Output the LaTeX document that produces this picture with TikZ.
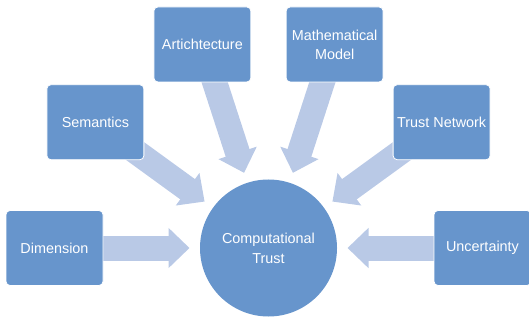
\documentclass[tikz,border=0pt]{standalone}
\usepackage{fontspec}
\setmainfont{Liberation Sans}
\usetikzlibrary{arrows.meta,calc,backgrounds}
\definecolor{boxblue}{RGB}{103,149,204}
\definecolor{arrowblue}{RGB}{185,201,230}

\begin{document}
\begin{tikzpicture}[x=1pt,y=1pt]

    \tikzset{
      Topic/.style = {draw=white, line width=0.8pt, fill=boxblue, rounded corners=4pt,
        minimum width=97pt, minimum height=75pt, text=white, align=center,
        font=\fontsize{14.4}{19}\selectfont},
      Core/.style = {circle, fill=boxblue, minimum size=137pt, inner sep=0pt,
        text=white, align=center, font=\fontsize{14.4}{20}\selectfont},
      Flow/.style = {draw=arrowblue, line width=25pt, -{Triangle[width=39pt,length=21pt]}}
    }
    \useasboundingbox (0,0) rectangle (529,-320);

    \node[Core] (CT) at (268.5,-248) {Computational\\Trust};
    \node[Topic] (Dim) at ($(CT)+(180:214pt)$) {Dimension};
    \node[Topic] (Sem) at ($(CT)+(144:214pt)$) {Semantics};
    \node[Topic] (Arc) at ($(CT)+(108:214pt)$) {Artichtecture};
    \node[Topic] (Mat) at ($(CT)+(72:214pt)$) {Mathematical\\Model};
    \node[Topic] (TN)  at ($(CT)+(36:214pt)$) {Trust Network};
    \node[Topic] (Unc) at ($(CT)+(0:214pt)$) {Uncertainty};

    \begin{scope}[on background layer]
      \foreach \t in {Dim,Sem,Arc,Mat,TN,Unc}
        \draw[Flow] ($(CT)!185pt!(\t)$) -- ($(CT)!79pt!(\t)$);
    \end{scope}
    % \draw[Flow] (Dim) -- (CT);

\end{tikzpicture}
\end{document}
